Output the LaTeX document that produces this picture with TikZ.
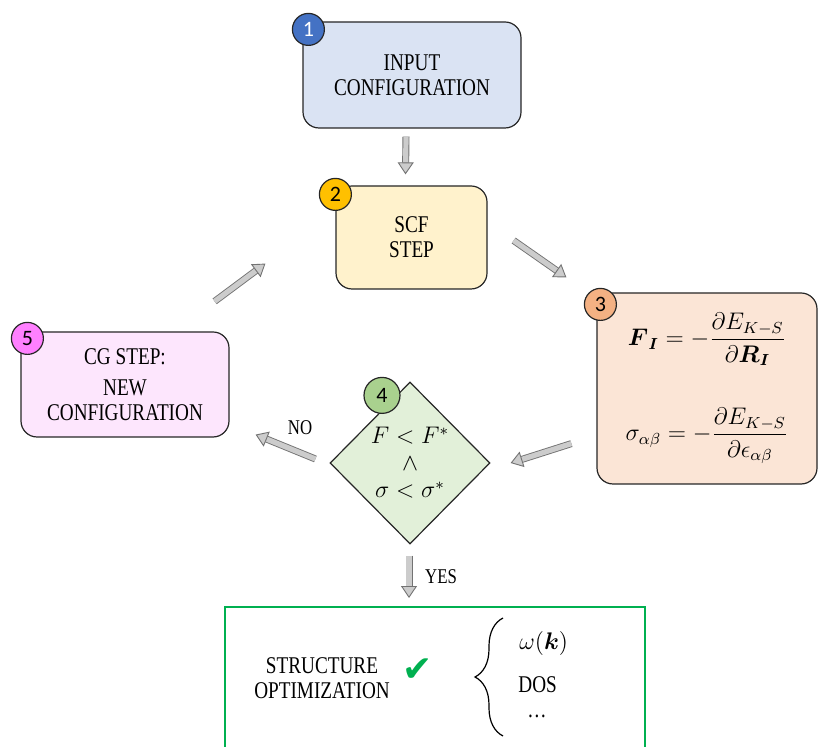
\documentclass[tikz,border=0pt]{standalone}
\usepackage{amsmath}
\usepackage{fontspec}
\setmainfont{Liberation Serif}[FakeStretch=0.8]
\newfontfamily\badgefont{Carlito}
\newfontfamily\symbolfont{DejaVu Sans}
\usetikzlibrary{shapes.geometric, arrows.meta, calc, decorations.pathreplacing}
\definecolor{inputblue}{RGB}{218, 227, 243}
\definecolor{badgeblue}{RGB}{68, 114, 196}
\definecolor{scfyellow}{RGB}{255, 242, 204}
\definecolor{badgegold}{RGB}{255, 192, 0}
\definecolor{forcepeach}{RGB}{251, 229, 214}
\definecolor{badgepeach}{RGB}{244, 177, 131}
\definecolor{testgreen}{RGB}{226, 240, 217}
\definecolor{badgegreen}{RGB}{169, 209, 142}
\definecolor{cgpink}{RGB}{253, 230, 253}
\definecolor{badgepink}{RGB}{255, 128, 255}
\definecolor{donegreen}{RGB}{0, 176, 80}
\definecolor{outline}{RGB}{38, 38, 38}

\begin{document}
\begin{tikzpicture}[
    x=0.5pt, y=-0.5pt,
    stage/.style={rectangle, draw=outline, line width=0.6pt, rounded corners=8pt,
                  align=center, font=\fontsize{12}{12.5}\selectfont},
    badge/.style={circle, draw=outline, line width=0.6pt, minimum size=16pt,
                  inner sep=0pt, font=\badgefont\fontsize{11}{11}\selectfont},
    flow/.style={draw=black!55, line width=0.45pt, double=black!20, double distance=2.6pt,
                 -{Triangle[width=8pt, length=6pt, fill=black!20]}},
    tag/.style={font=\fontsize{10.5}{10.5}\selectfont},
    result/.style={anchor=west, inner sep=0pt, font=\fontsize{12}{12}\selectfont}
]
\useasboundingbox (0,0) rectangle (818,747);
\clip (0,0) rectangle (818,747);

% Stages
\node[stage, fill=inputblue, minimum width=109pt, minimum height=53pt] (input) at (412,75) {INPUT\\CONFIGURATION};
\node[stage, fill=scfyellow, minimum width=75.5pt, minimum height=51.5pt] (scf) at (411.5,237.5) {SCF\\STEP};
\node[stage, fill=forcepeach, minimum width=110pt, minimum height=95.5pt] (forces) at (707,388.5)
    {$\displaystyle \boldsymbol{F}_{\boldsymbol{I}} = -\frac{\partial E_{K-S}}{\partial \boldsymbol{R}_{\boldsymbol{I}}}$\\[20pt]
     $\displaystyle \sigma_{\alpha\beta} = -\frac{\partial E_{K-S}}{\partial \epsilon_{\alpha\beta}}$};
\node[diamond, draw=outline, line width=0.6pt, fill=testgreen, minimum width=80pt, minimum height=81pt,
      inner sep=0pt, align=center, font=\fontsize{12}{12}\selectfont] (test) at (410,463)
    {$F<F^{*}$\\[1.5pt]$\wedge$\\[1.5pt]$\sigma<\sigma^{*}$};
\node[stage, fill=cgpink, minimum width=104pt, minimum height=52.5pt] (cg) at (125,384.5) {CG STEP:\\[3pt]NEW\\CONFIGURATION};
\node[rectangle, draw=donegreen, line width=1pt, minimum width=210pt, minimum height=90pt, anchor=north] (done) at (435,606) {};

% Badges
\node[badge, fill=badgeblue, text=white] (b1) at ($(input.north west)+(6,8)$) {1};
\node[badge, fill=badgegold] (b2) at ($(scf.north west)+(0,9)$) {2};
\node[badge, fill=badgepeach] (b3) at ($(forces.north west)+(4,12)$) {3};
\node[badge, fill=badgegreen, minimum size=18pt] (b4) at ($(test.north)+(-28,14)$) {4};
\node[badge, fill=badgepink] (b5) at ($(cg.north west)+(7,7)$) {5};

% Result box
\node[align=center, font=\fontsize{12}{12.5}\selectfont] (struct) at (322,678) {STRUCTURE\\OPTIMIZATION};
\node[text=donegreen, font=\symbolfont\fontsize{18}{18}\selectfont] (tick) at (418,670) {✔};
\node[result] (omega) at (519,643) {$\omega(\boldsymbol{k})$};
\node[result] (dos) at (518,685) {DOS};
\node[result] (more) at (527,716) {\ldots};
\coordinate (bracebot) at (503,736);
\coordinate (bracetop) at (503,618);
\draw[decorate, decoration={brace, amplitude=14pt}, line width=0.6pt] (bracebot) -- (bracetop);

% Arrows
\draw[flow] ($(input.south)+(-6,8)$) -- ($(scf.north)+(-6,-11)$);
\draw[flow] ($(scf.east)+(26,3)$) -- ($(forces.north west)+(-30,-15)$);
\draw[flow] ($(forces.south west)+(-25,-41)$) -- ($(test.east)+(20,0)$);
\draw[flow] ($(test.west)+(-14,-4)$) -- ($(cg.south east)+(26,-3)$);
\draw[flow] ($(cg.north east)+(-15,-30)$) -- ($(scf.south west)+(-70,-26)$);
\draw[flow] ($(test.south)+(-1,11)$) -- ($(test.south |- done.north)+(-1,-8)$);

% Labels
\node[tag] (no) at (300,428) {NO};
\node[tag] (yes) at (441,577) {YES};

\end{tikzpicture}
\end{document}
